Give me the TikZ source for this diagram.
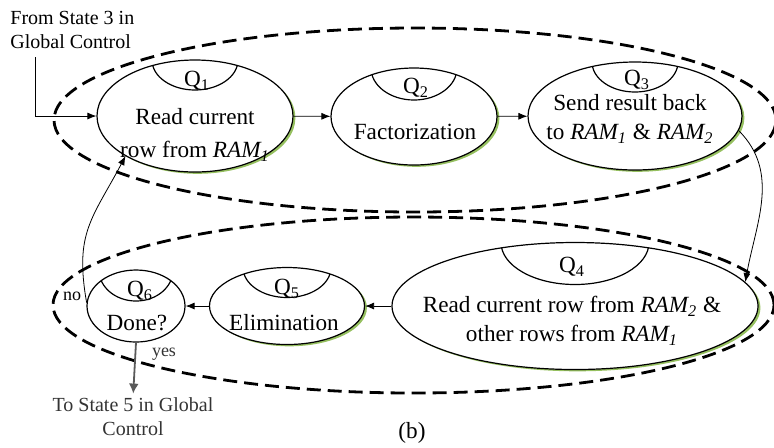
\documentclass[tikz,border=0pt]{standalone}
\usepackage{fontspec}
\setmainfont{Liberation Serif}
\usepackage{tikz}
\usetikzlibrary{arrows.meta,shapes.geometric,shadows}

\definecolor{leaf}{RGB}{150,192,96}
\newcommand{\ram}[1]{\textit{RAM\textsubscript{#1}}}
\newcommand{\qlab}[1]{Q\textsubscript{#1}}

\begin{document}
\begin{tikzpicture}[x=0.5pt,y=-0.5pt,
    state/.style={draw,ellipse,fill=white,inner sep=0pt,line width=0.6pt},
    leafy/.style={drop shadow={shadow xshift=1.2pt,shadow yshift=-0.9pt,fill=leaf,opacity=1}},
    cap/.style 2 args={path picture={\draw[line width=0.6pt]
        (path picture bounding box.north) ellipse (#1 and #2);}},
    txt/.style={align=center,inner sep=0pt,font=\fontsize{11.6}{15}\selectfont},
    note/.style={align=center,inner sep=0pt,font=\fontsize{10}{12}\selectfont},
    small/.style={inner sep=0pt,font=\fontsize{9}{10}\selectfont},
    group/.style={draw,ellipse,inner sep=0pt,dash pattern=on 7pt off 3.5pt,line width=1.4pt},
    arr/.style={-{Latex[length=4.5pt,width=3.5pt]},line width=0.4pt},
    exit/.style={-{Latex[length=5pt,width=5pt]},line width=0.9pt,black!65}]
  \useasboundingbox (0,0) rectangle (774,447);

  % the two loops
  \node[group,minimum width=361pt,minimum height=92pt] (row1) at (415,120) {};
  \node[group,minimum width=360.5pt,minimum height=88pt] (row2) at (413.5,305) {};

  % states
  \node[state,leafy,cap={21.5pt}{15pt},minimum width=98pt,minimum height=56pt] (s1) at (195,116) {};
  \node[state,leafy,cap={21.5pt}{16pt},minimum width=83pt,minimum height=48.5pt] (s2) at (414,116.5) {};
  \node[state,leafy,cap={21.5pt}{15pt},minimum width=107pt,minimum height=54pt] (s3) at (635,116) {};
  \node[state,leafy,cap={37pt}{21pt},minimum width=183pt,minimum height=63.5pt] (s4) at (575,306) {};
  \node[state,leafy,cap={22pt}{15pt},minimum width=77.5pt,minimum height=38.5pt] (s5) at (287,306) {};
  \node[state,cap={18.5pt}{15.5pt},minimum width=49pt,minimum height=36pt] (s6) at (136,306) {};

  \node[txt] (q1) at (197,81) {\qlab{1}};
  \node[txt] (q2) at (416,88) {\qlab{2}};
  \node[txt] (q3) at (637,80) {\qlab{3}};
  \node[txt] (q4) at (572,267) {\qlab{4}};
  \node[txt] (q5) at (287,289) {\qlab{5}};
  \node[txt] (q6) at (140,291) {\qlab{6}};

  \node[txt,font=\fontsize{11.6}{16.5}\selectfont] (t1) at (195,135) {Read current\\row from \ram{1}};
  \node[txt] (t2) at (415,132) {Factorization};
  \node[txt,font=\fontsize{11.6}{14.5}\selectfont] (t3) at (630,119) {Send result back\\to \ram{1} \& \ram{2}};
  \node[txt,font=\fontsize{11.6}{14.5}\selectfont] (t4) at (572,321) {Read current row from \ram{2} \&\\other rows from \ram{1}};
  \node[txt] (t5) at (284,323) {Elimination};
  \node[txt] (t6) at (137,323) {Done?};

  % entry and exit
  \node[note,align=left,anchor=north west] (from) at (10,11) {From State 3 in\\Global Control};
  \node[note,black!80] (to) at (133,417) {To State 5 in Global\\Control};
  \node[small] (no) at (72,296) {no};
  \node[small,black!80] (yes) at (164,354) {yes};
  \node[txt] (cap) at (412,433) {(b)};

  \draw[arr] (from.south west) ++(25,8) |- (s1.west);
  \draw[arr] (s1) -- (s2);
  \draw[arr] (s2) -- (s3);
  \draw[arr] (s3.-8) to[out=-45,in=80] (s4.8);
  \draw[arr] (s4) -- (s5);
  \draw[arr] (s5) -- (s6);
  \draw[arr] (s6.176) to[out=100,in=-118,looseness=1.2] (s1.-150);
  \draw[exit,shorten >=2pt] (s6.south) -- (to.north);
\end{tikzpicture}
\end{document}
